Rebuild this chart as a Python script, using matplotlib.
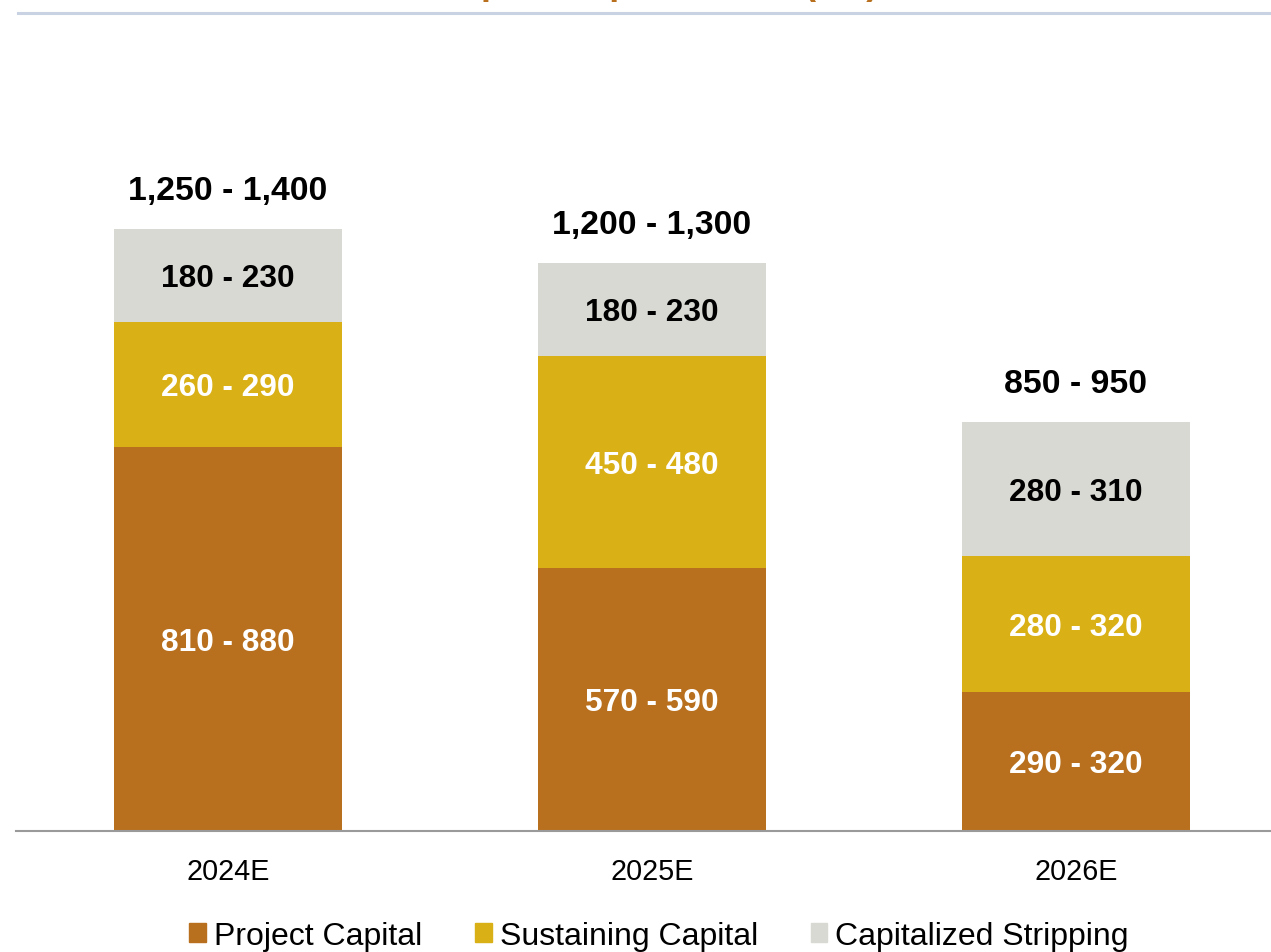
import matplotlib
matplotlib.use("Agg")
import matplotlib.pyplot as plt
from matplotlib.lines import Line2D
from matplotlib.patches import Patch

plt.rcParams["font.family"] = ["Liberation Sans", "DejaVu Sans"]

# guidance ranges, bars drawn at range midpoints
years = ["2024E", "2025E", "2026E"]
project = [845, 580, 305]
sustaining = [275, 465, 300]
stripping = [205, 205, 295]
project_lbl = ["810 - 880", "570 - 590", "290 - 320"]
sustaining_lbl = ["260 - 290", "450 - 480", "280 - 320"]
stripping_lbl = ["180 - 230", "180 - 230", "280 - 310"]
total_lbl = ["1,250 - 1,400", "1,200 - 1,300", "850 - 950"]

C_PROJ = "#B8701E"
C_SUST = "#DAB017"
C_STRIP = "#D9D9D4"

W, H = 1271, 953
fig = plt.figure(figsize=(W / 100, H / 100), dpi=100)
ax = fig.add_axes([16 / W, 1 - 832 / H, (W - 16) / W, (832 - 14) / H])

x = list(range(len(years)))
bw = 0.538
b1 = project
b2 = [p + s for p, s in zip(project, sustaining)]
tops = [a + b for a, b in zip(b2, stripping)]

ax.bar(x, project, bw, color=C_PROJ)
ax.bar(x, sustaining, bw, bottom=b1, color=C_SUST)
ax.bar(x, stripping, bw, bottom=b2, color=C_STRIP)

seg = dict(ha="center", va="center", fontsize=22.8, fontweight="bold",
           textcoords="offset points", xytext=(0, -2))
for i in x:
    ax.annotate(project_lbl[i], (i, project[i] / 2), color="white", **seg)
    ax.annotate(sustaining_lbl[i], (i, b1[i] + sustaining[i] / 2), color="white", **seg)
    ax.annotate(stripping_lbl[i], (i, b2[i] + stripping[i] / 2), color="black", **seg)
    ax.annotate(total_lbl[i], (i, tops[i]), xytext=(0, 28), textcoords="offset points",
                ha="center", va="center", fontsize=24.3, fontweight="bold")

ax.set_xlim(-0.5, (W - 228) / 424)
ax.set_ylim(0, 818 / 0.4543)
ax.set_xticks(x)
ax.set_xticklabels(years, fontsize=20.7)
ax.tick_params(axis="x", length=0, pad=18.5)
ax.set_yticks([])
for s in ["top", "left", "right"]:
    ax.spines[s].set_visible(False)
ax.spines["bottom"].set_color("#9a9a9a")
ax.spines["bottom"].set_linewidth(1.5)

# title (cut off at the top of the slide) and rule underneath
fig.text(657 / W, 1 + 6 / H, "Capital Expenditures ($M)", ha="center", va="baseline",
         color=C_PROJ, fontsize=26, fontweight="bold")
fig.add_artist(Line2D([18 / W, 1], [1 - 14 / H, 1 - 14 / H], transform=fig.transFigure,
                      color="#C8D2E2", linewidth=2.2))

handles = [Patch(color=C_PROJ), Patch(color=C_SUST), Patch(color=C_STRIP)]
fig.legend(handles, ["Project Capital", "Sustaining Capital", "Capitalized Stripping"],
           loc="center", bbox_to_anchor=(659 / W, 1 - 937 / H), ncol=3, frameon=False,
           fontsize=23, handlelength=0.52, handleheight=0.52, handletextpad=0.25,
           columnspacing=1.65, borderaxespad=0)

fig.savefig("out.png", dpi=100)
